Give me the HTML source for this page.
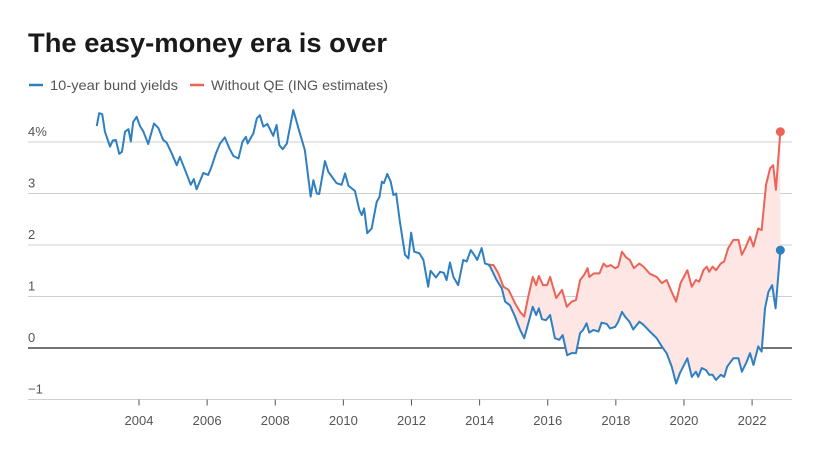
<!DOCTYPE html>
<html><head><meta charset="utf-8">
<style>
body{margin:0;background:#fff;font-family:"Liberation Sans",sans-serif;}
svg{display:block}
</style></head>
<body>
<svg id="chart" width="820" height="453" viewBox="0 0 820 453" xmlns="http://www.w3.org/2000/svg" font-family="Liberation Sans, sans-serif">
<text x="28" y="52" font-size="27" font-weight="bold" fill="#1a1a1a" textLength="359" lengthAdjust="spacingAndGlyphs">The easy-money era is over</text>
<g>
<line x1="29" y1="85" x2="43" y2="85" stroke="#2f7fc1" stroke-width="2.5"/>
<text x="50" y="90" font-size="14" fill="#555" textLength="128" lengthAdjust="spacingAndGlyphs">10-year bund yields</text>
<line x1="190" y1="85" x2="204" y2="85" stroke="#ec6357" stroke-width="2.5"/>
<text x="211" y="90" font-size="14" fill="#555" textLength="177" lengthAdjust="spacingAndGlyphs">Without QE (ING estimates)</text>
</g>
<g id="grid"></g>
<g id="area"></g>
<g id="lines"></g>
<g id="xt"></g>
</svg>
<script>
const yTicks=[4,3,2,1,0,-1];
const yTickLabels=["4%","3","2","1","0","\u22121"];
const xTicks=[2004,2006,2008,2010,2012,2014,2016,2018,2020,2022];
const bundYears=[2002.76,2002.83,2002.92,2003.00,2003.15,2003.23,2003.32,2003.42,2003.50,2003.59,2003.69,2003.76,2003.83,2003.93,2004.03,2004.13,2004.27,2004.44,2004.57,2004.71,2004.81,2004.96,2005.11,2005.20,2005.35,2005.52,2005.61,2005.69,2005.89,2006.03,2006.13,2006.26,2006.38,2006.52,2006.65,2006.77,2006.92,2007.04,2007.14,2007.19,2007.36,2007.46,2007.55,2007.65,2007.77,2007.94,2008.04,2008.12,2008.22,2008.34,2008.53,2008.71,2008.87,2009.04,2009.12,2009.22,2009.29,2009.46,2009.56,2009.80,2009.95,2010.05,2010.15,2010.34,2010.47,2010.54,2010.61,2010.70,2010.83,2010.98,2011.06,2011.13,2011.19,2011.29,2011.39,2011.47,2011.55,2011.66,2011.81,2011.91,2011.99,2012.08,2012.23,2012.35,2012.49,2012.56,2012.72,2012.84,2012.95,2013.03,2013.13,2013.23,2013.37,2013.52,2013.62,2013.74,2013.84,2013.93,2014.06,2014.16,2014.26,2014.31,2014.50,2014.65,2014.75,2014.89,2015.04,2015.19,2015.31,2015.43,2015.56,2015.66,2015.74,2015.83,2015.95,2016.07,2016.21,2016.34,2016.44,2016.57,2016.70,2016.83,2016.95,2017.04,2017.14,2017.22,2017.34,2017.49,2017.58,2017.73,2017.83,2017.98,2018.07,2018.18,2018.27,2018.40,2018.51,2018.69,2018.81,2019.00,2019.20,2019.35,2019.49,2019.64,2019.77,2019.88,2020.10,2020.23,2020.35,2020.42,2020.52,2020.65,2020.74,2020.84,2020.94,2021.08,2021.18,2021.27,2021.45,2021.60,2021.70,2021.82,2021.94,2022.04,2022.18,2022.28,2022.38,2022.48,2022.59,2022.69,2022.83];
const bundValues=[4.31,4.56,4.54,4.2,3.91,4.03,4.04,3.77,3.81,4.2,4.25,4.01,4.39,4.49,4.31,4.2,3.96,4.36,4.27,4.04,3.99,3.78,3.55,3.71,3.46,3.17,3.28,3.08,3.4,3.36,3.52,3.78,3.97,4.09,3.88,3.73,3.68,4.01,4.1,3.97,4.17,4.46,4.52,4.3,4.35,4.12,4.33,3.94,3.86,3.97,4.62,4.2,3.84,2.94,3.26,3.0,2.99,3.63,3.42,3.2,3.17,3.39,3.15,3.05,2.68,2.58,2.71,2.23,2.32,2.84,2.93,3.23,3.2,3.38,3.23,2.97,3.0,2.45,1.81,1.74,2.24,1.87,1.84,1.71,1.19,1.5,1.37,1.48,1.46,1.32,1.66,1.38,1.22,1.71,1.68,1.90,1.81,1.71,1.94,1.64,1.62,1.58,1.32,1.16,0.90,0.83,0.61,0.35,0.19,0.48,0.80,0.64,0.77,0.56,0.54,0.64,0.19,0.16,0.25,-0.14,-0.1,-0.1,0.29,0.35,0.48,0.30,0.35,0.32,0.49,0.47,0.38,0.41,0.51,0.70,0.61,0.51,0.36,0.51,0.45,0.32,0.19,0.03,-0.10,-0.36,-0.69,-0.49,-0.20,-0.56,-0.46,-0.56,-0.39,-0.43,-0.52,-0.52,-0.62,-0.52,-0.56,-0.36,-0.20,-0.20,-0.46,-0.30,-0.10,-0.33,0.03,-0.07,0.77,1.09,1.22,0.77,1.90];
const noqeYears=[2014.26,2014.41,2014.55,2014.70,2014.85,2015.04,2015.19,2015.31,2015.43,2015.56,2015.66,2015.74,2015.86,2015.98,2016.07,2016.25,2016.42,2016.56,2016.70,2016.83,2016.95,2017.07,2017.17,2017.22,2017.36,2017.52,2017.64,2017.73,2017.85,2017.98,2018.07,2018.18,2018.30,2018.41,2018.53,2018.69,2018.81,2019.00,2019.20,2019.35,2019.49,2019.64,2019.77,2019.90,2020.10,2020.23,2020.35,2020.45,2020.57,2020.67,2020.74,2020.84,2020.94,2021.08,2021.18,2021.30,2021.45,2021.60,2021.70,2021.82,2021.94,2022.04,2022.18,2022.28,2022.41,2022.53,2022.62,2022.70,2022.83];
const noqeValues=[1.62,1.61,1.45,1.19,1.13,0.87,0.70,0.61,1.0,1.38,1.22,1.40,1.22,1.22,1.38,0.97,1.13,0.80,0.90,0.93,1.32,1.42,1.55,1.38,1.45,1.45,1.64,1.58,1.61,1.55,1.58,1.87,1.76,1.71,1.55,1.64,1.58,1.44,1.38,1.26,1.32,1.09,0.90,1.26,1.51,1.19,1.32,1.29,1.51,1.58,1.48,1.58,1.51,1.64,1.68,1.94,2.10,2.10,1.81,1.97,2.16,1.97,2.32,2.29,3.17,3.49,3.55,3.07,4.20];

const NS="http://www.w3.org/2000/svg";
const xS=y=>139+(y-2004)*34.06;
const yS=v=>348-v*51.5;
function mk(tag,attrs,parent,txt){const e=document.createElementNS(NS,tag);for(const k in attrs)e.setAttribute(k,attrs[k]);if(txt!==undefined)e.textContent=txt;document.getElementById(parent).appendChild(e);return e;}

yTicks.forEach((t,i)=>{
  const l=mk('line',{x1:28,x2:792,y1:yS(t),y2:yS(t),stroke:t===0?'#222':'#cfcfcf','stroke-width':t===0?1.2:1},'grid');
  
  
  const tx=mk('text',{x:28,y:yS(t)-6,'font-size':13,fill:'#555'},'grid',yTickLabels[i]);
  
  
});
xTicks.forEach(t=>{
  const tk=mk('line',{x1:xS(t),x2:xS(t),y1:yS(-1),y2:yS(-1)+6,stroke:'#555','stroke-width':1},'xt');
  
  
  const tx=mk('text',{x:xS(t),y:425,'font-size':13,fill:'#555','text-anchor':'middle'},'xt',String(t));
  
  
});
const start=noqeYears[0];
let pts=noqeYears.map((y,i)=>xS(y)+','+yS(noqeValues[i]));
const bp=[];
bundYears.forEach((y,i)=>{if(y>=start)bp.push(xS(y)+','+yS(bundValues[i]));});
pts=pts.concat(bp.reverse());
const area=mk('polygon',{points:pts.join(' '),fill:'#fde6e3',stroke:'none'},'area');



const red=mk('polyline',{points:noqeYears.map((y,i)=>xS(y)+','+yS(noqeValues[i])).join(' '),fill:'none',stroke:'#ec6357','stroke-width':2,'stroke-linejoin':'round'},'lines');


const blue=mk('polyline',{points:bundYears.map((y,i)=>xS(y)+','+yS(bundValues[i])).join(' '),fill:'none',stroke:'#2f7fc1','stroke-width':2,'stroke-linejoin':'round'},'lines');


const rn=noqeYears.length-1, bn=bundYears.length-1;
const rd=mk('circle',{cx:xS(noqeYears[rn]),cy:yS(noqeValues[rn]),r:4.5,fill:'#ec6357'},'lines');


const bd=mk('circle',{cx:xS(bundYears[bn]),cy:yS(bundValues[bn]),r:4.5,fill:'#2f7fc1'},'lines');


</script>
</body></html>
